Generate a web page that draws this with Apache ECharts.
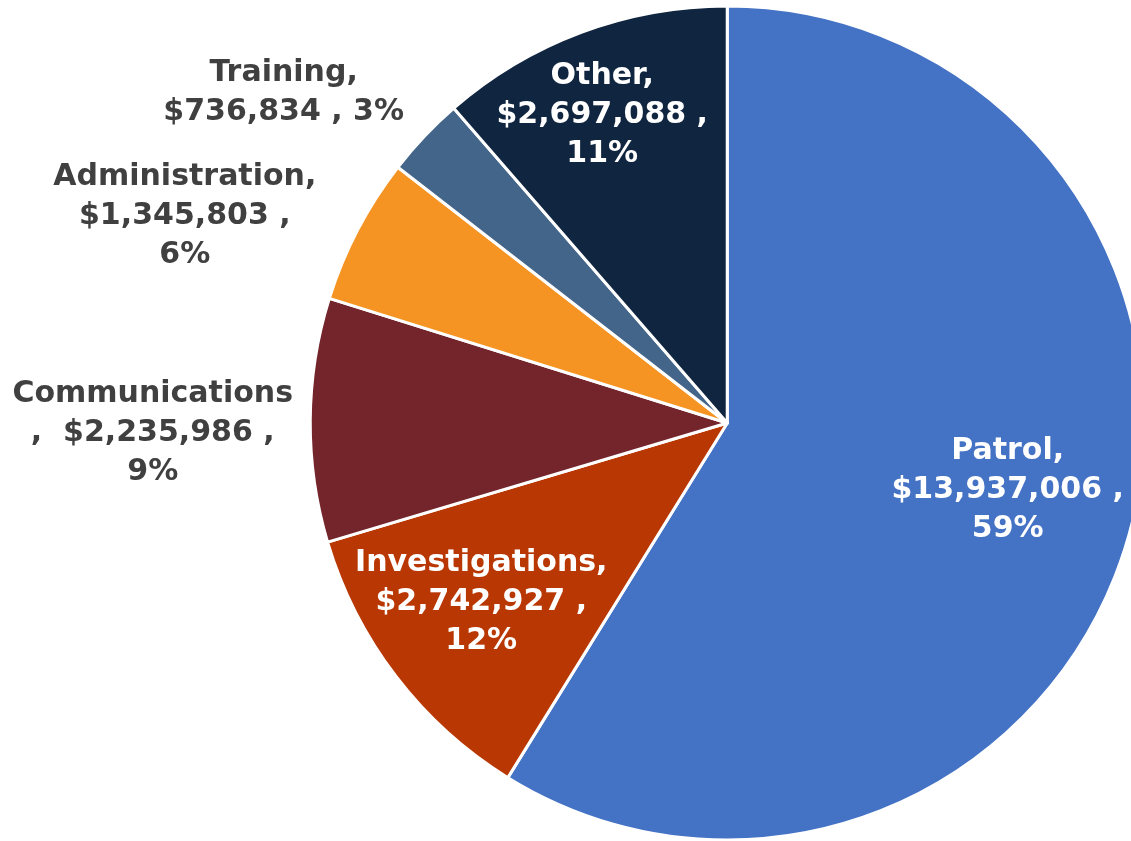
<!DOCTYPE html>
<html>
<head>
<meta charset="utf-8">
<script src="https://cdn.jsdelivr.net/npm/echarts@6/dist/echarts.min.js"></script>
<style>
  html, body { margin: 0; padding: 0; background: #fff; }
  #chart { width: 1131px; height: 841px; }
</style>
</head>
<body>
<div id="chart"></div>
<script>
const categories = ['Patrol', 'Investigations', 'Communications', 'Administration', 'Training', 'Other'];
const amounts = [13937006, 2742927, 2235986, 1345803, 736834, 2697088];
const colors = ['#4472C4', '#B93703', '#74252C', '#F59423', '#44658A', '#10253F'];

// where each label sits relative to ECharts' default inside spot
const labelOffsets = [[77, 9], [-78, 51], [-363, 12], [-355, -109], [-290, -185], [-51, -110]];
const insideLabel = [true, true, false, false, false, true];

const money = v => '$' + v.toLocaleString('en-US');

const chart = echarts.init(document.getElementById('chart'));

const formatLabel = p => {
  const pct = Math.round(p.percent) + '%';
  const v = money(p.value);
  if (p.name === 'Training') return p.name + ',\n' + v + ' , ' + pct;
  if (p.name === 'Communications') return p.name + '\n,  ' + v + ' ,\n' + pct;
  return p.name + ',\n' + v + ' ,\n' + pct;
};

chart.setOption({
  animation: false,
  series: [{
    type: 'pie',
    center: ['64.3%', '50.3%'],
    radius: 417,
    startAngle: 90,
    itemStyle: { borderColor: '#fff', borderWidth: 3 },
    label: {
      position: 'inside',
      formatter: formatLabel,
      fontFamily: 'DejaVu Sans',
      fontWeight: 'bold',
      fontSize: 30,
      lineHeight: 39,
      align: 'center'
    },
    labelLine: { show: false },
    data: categories.map((name, i) => ({
      name: name,
      value: amounts[i],
      itemStyle: { color: colors[i] },
      label: {
        color: insideLabel[i] ? '#fff' : '#404040',
        offset: labelOffsets[i]
      }
    }))
  }]
});
</script>
</body>
</html>
